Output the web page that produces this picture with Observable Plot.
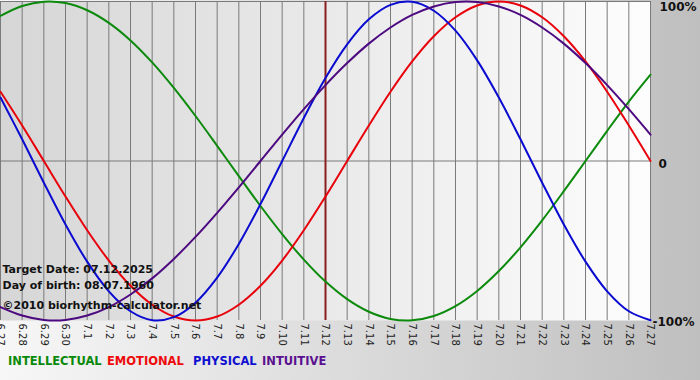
<!DOCTYPE html>
<html>
<head>
<meta charset="utf-8">
<script src="https://cdn.jsdelivr.net/npm/d3@7"></script>
<script src="https://cdn.jsdelivr.net/npm/@observablehq/plot@0.6"></script>
<style>
  html, body { margin: 0; padding: 0; }
  body {
    width: 700px; height: 380px; overflow: hidden;
    background: linear-gradient(to right, #f7f7f7, #bfbfbf);
    font-family: "DejaVu Sans", sans-serif;
  }
  #chart svg { display: block; }
  #legend {
    position: relative; height: 35px;
    font: bold 11.5px "DejaVu Sans", sans-serif; white-space: nowrap;
  }
  #legend span { position: absolute; top: 9px; }
</style>
</head>
<body>
<div id="chart"></div>
<div id="legend"></div>
<script>
// Day tick labels (month.day)
const dayLabels = ["6.27","6.28","6.29","6.30","7.1","7.2","7.3","7.4","7.5","7.6","7.7","7.8","7.9","7.10","7.11","7.12","7.13","7.14","7.15","7.16","7.17","7.18","7.19","7.20","7.21","7.22","7.23","7.24","7.25","7.26","7.27"];

// Series values per day (fraction of 100%)
const intellectual = [0.91,0.972,0.999,0.99,0.945,0.866,0.756,0.618,0.458,0.282,0.095,-0.095,-0.282,-0.458,-0.618,-0.756,-0.866,-0.945,-0.99,-0.999,-0.972,-0.91,-0.815,-0.69,-0.541,-0.372,-0.189,0,0.189,0.372,0.541];
const emotional = [0.434,0.2225,0,-0.2225,-0.434,-0.624,-0.782,-0.901,-0.975,-1,-0.975,-0.901,-0.782,-0.624,-0.434,-0.2225,0,0.2225,0.434,0.624,0.782,0.901,0.975,1,0.975,0.901,0.782,0.624,0.434,0.2225,0];
const physical = [0.398,0.136,-0.136,-0.398,-0.631,-0.817,-0.942,-0.998,-0.979,-0.888,-0.731,-0.52,-0.27,0,0.27,0.52,0.731,0.888,0.979,0.998,0.942,0.817,0.631,0.398,0.136,-0.136,-0.398,-0.631,-0.817,-0.942,-0.998];
const intuitive = [-0.916,-0.969,-0.997,-0.997,-0.969,-0.916,-0.837,-0.736,-0.614,-0.476,-0.325,-0.165,0,0.165,0.325,0.476,0.614,0.736,0.837,0.916,0.969,0.997,0.997,0.969,0.916,0.837,0.736,0.614,0.476,0.325,0.165];

const seriesNames = ["INTELLECTUAL","EMOTIONAL","PHYSICAL","INTUITIVE"];
const targetLabel = "7.12";
const yTickValues = [1, 0, -1];
const yTickLabels = ["100%", "0", "-100%"];
const infoLines = ["Target Date: 07.12.2025", "Day of birth: 08.07.1960", "©2010 biorhythm-calculator.net"];

const lineColors = {INTELLECTUAL: "#0b8a0b", EMOTIONAL: "#e8000b", PHYSICAL: "#0a0ad0", INTUITIVE: "#4d0a80"};
const legendColors = {INTELLECTUAL: "#0a8a0a", EMOTIONAL: "#ee0a0a", PHYSICAL: "#1010d0", INTUITIVE: "#5a1090"};
const legendLeft = {INTELLECTUAL: 8, EMOTIONAL: 107, PHYSICAL: 193, INTUITIVE: 262};

const seriesValues = [intellectual, emotional, physical, intuitive];
const rows = [];
seriesNames.forEach((name, s) => {
  seriesValues[s].forEach((v, i) => rows.push({day: i, value: v, series: name}));
});
const days = dayLabels.map((_, i) => i);
const targetIndex = dayLabels.indexOf(targetLabel);
const yTicks = yTickValues.map((v, i) => ({v, label: yTickLabels[i], idx: i}));

const chart = Plot.plot({
  width: 700,
  height: 345,
  marginLeft: 0,
  marginRight: 50,
  marginTop: 1,
  marginBottom: 25,
  style: {background: "transparent", overflow: "visible", fontFamily: "DejaVu Sans, sans-serif"},
  x: {domain: [0, days.length - 1], axis: null},
  y: {domain: [-1, 1], axis: null},
  color: {domain: seriesNames, range: seriesNames.map(n => lineColors[n])},
  marks: [
    Plot.frame({fill: "url(#plotGrad)", stroke: "none"}),
    Plot.ruleX(days, {x: d => d, stroke: "#7a7a7a", strokeWidth: 1}),
    Plot.ruleY(yTickValues.filter(v => v >= 0), {y: d => d, stroke: "#7a7a7a", strokeWidth: 1}),
    Plot.ruleX([targetIndex], {x: d => d, stroke: "#8a1f1f", strokeWidth: 2}),
    Plot.line(rows, {x: "day", y: "value", z: "series", stroke: "series", strokeWidth: 2, curve: "catmull-rom"}),
    Plot.axisX({ticks: days, tickFormat: i => dayLabels[i], tickRotate: 90, tickSize: 0, tickPadding: 3, fontSize: 10, fill: "#222", label: null}),
    Plot.text(yTicks.filter(d => d.idx === 0), {x: days.length - 1, y: "v", text: "label", textAnchor: "start", lineAnchor: "top", dx: 9, dy: 1, fontSize: 12, fontWeight: "bold", fill: "#111"}),
    Plot.text(yTicks.filter(d => d.idx === 1), {x: days.length - 1, y: "v", text: "label", textAnchor: "start", dx: 8, dy: 3, fontSize: 12, fontWeight: "bold", fill: "#111"}),
    Plot.text(yTicks.filter(d => d.idx === 2), {x: days.length - 1, y: "v", text: "label", textAnchor: "start", dx: 2, dy: 2, fontSize: 12, fontWeight: "bold", fill: "#111"}),
    Plot.text([infoLines[0]], {frameAnchor: "top-left", text: d => d, dx: 2, dy: 264, fontSize: 11, fontWeight: "bold", fill: "#111"}),
    Plot.text([infoLines[1]], {frameAnchor: "top-left", text: d => d, dx: 2, dy: 280, fontSize: 11, fontWeight: "bold", fill: "#111"}),
    Plot.text([infoLines[2]], {frameAnchor: "top-left", text: d => d, dx: 2, dy: 300, fontSize: 11, fontWeight: "bold", fill: "#111"})
  ]
});

const grad = d3.select(chart).insert("defs", ":first-child")
  .append("linearGradient").attr("id", "plotGrad")
  .attr("x1", "0%").attr("x2", "100%").attr("y1", "0%").attr("y2", "0%");
grad.append("stop").attr("offset", "0%").attr("stop-color", "#d6d6d6");
grad.append("stop").attr("offset", "100%").attr("stop-color", "#fdfdfd");

document.getElementById("chart").appendChild(chart);

const legend = d3.select("#legend");
seriesNames.forEach(n => legend.append("span").style("color", legendColors[n]).style("left", legendLeft[n] + "px").text(n));
</script>
</body>
</html>
